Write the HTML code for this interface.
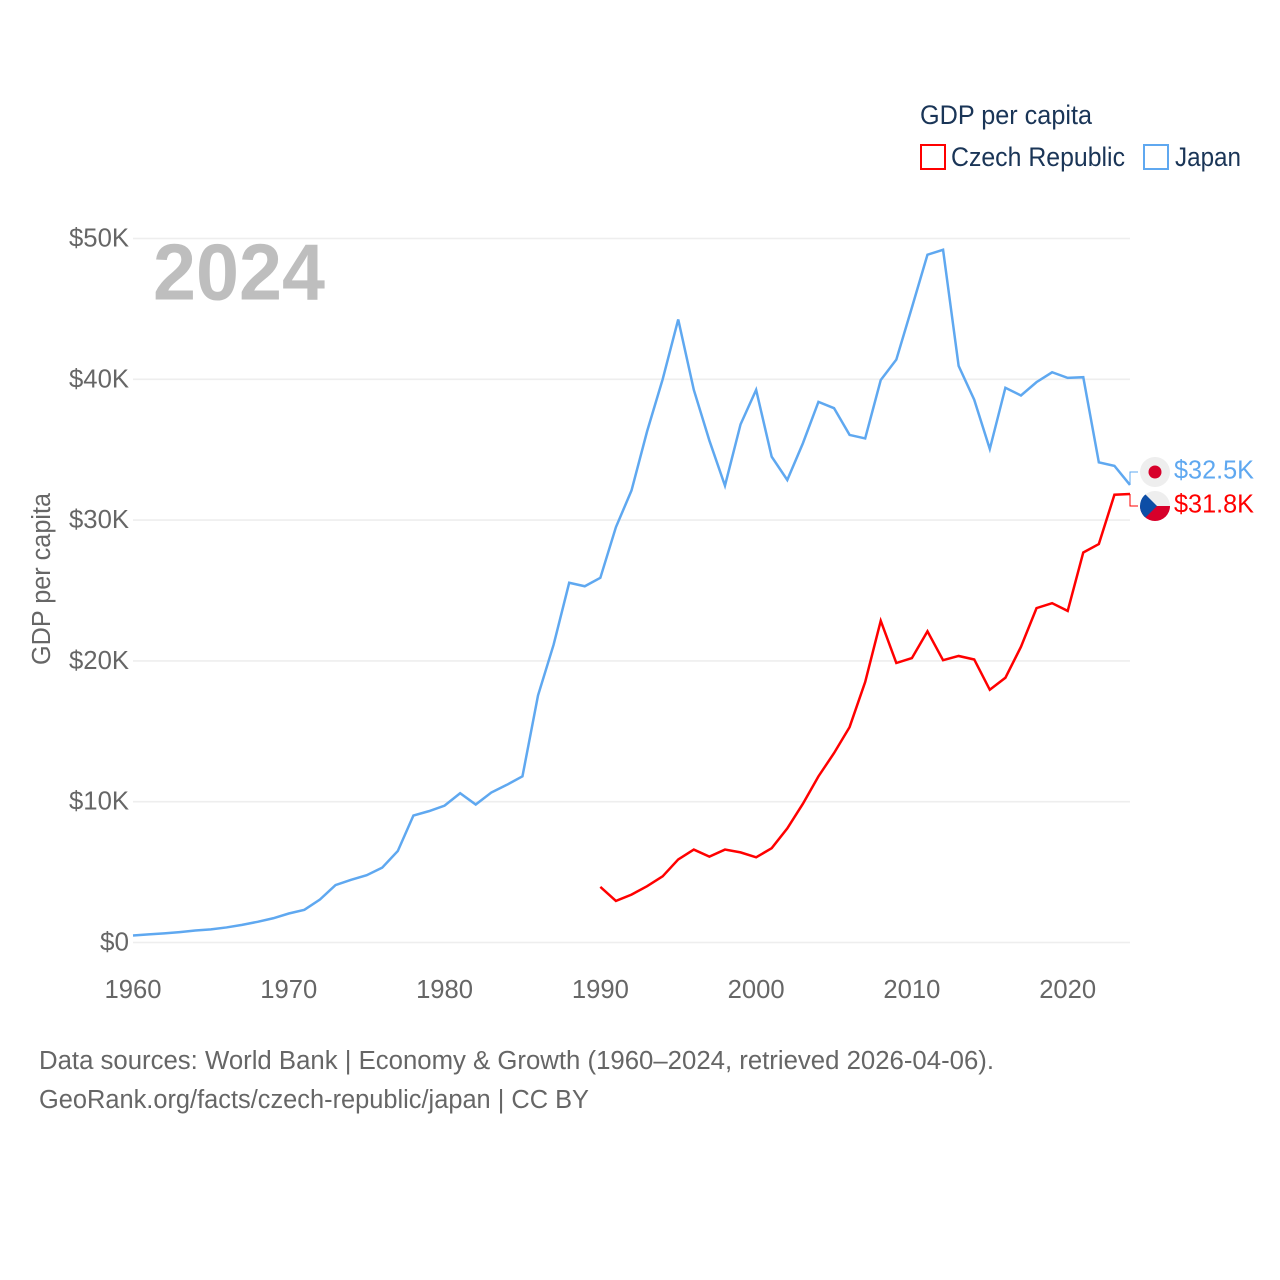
<!DOCTYPE html>
<html>
<head>
<meta charset="utf-8">
<title>GDP per capita: Czech Republic and Japan</title>
<style>
html,body{margin:0;padding:0;background:#fff}
svg{display:block}
text{font-family:"Liberation Sans",sans-serif}
.tick{font-size:25.5px;fill:#666}
.src{font-size:25.5px;fill:#666}
.leg{font-size:26.5px;fill:#1a3557}
</style>
</head>
<body>
<svg id="chart" xmlns="http://www.w3.org/2000/svg" width="1280" height="1280" viewBox="0 0 1280 1280">
  <rect width="1280" height="1280" fill="#fff"/>
  <g id="grid"></g>
  <g id="yticks"></g>
  <g id="xticks"></g>
  <text x="153" y="299.5" font-size="80" font-weight="bold" fill="#bebebe" textLength="172" lengthAdjust="spacingAndGlyphs">2024</text>
  <text class="tick" transform="translate(50,579) rotate(-90)" text-anchor="middle" textLength="172" lengthAdjust="spacingAndGlyphs">GDP per capita</text>
  <g id="series"></g>
  <g id="ends"></g>

  <g>
    <circle cx="1155" cy="472" r="15" fill="#eeeeee"/>
    <circle cx="1155" cy="472" r="6.5" fill="#d7002a"/>
  </g>
  <g>
    <clipPath id="czClip"><circle cx="1155" cy="506" r="15"/></clipPath>
    <g clip-path="url(#czClip)">
      <rect x="1140" y="491" width="30" height="15" fill="#eeeeee"/>
      <rect x="1140" y="506" width="30" height="15" fill="#d7002a"/>
      <polygon points="1140,489 1157,506 1140,523" fill="#0d4ea6"/>
    </g>
  </g>

  <g>
    <text class="leg" x="920" y="124" textLength="172" lengthAdjust="spacingAndGlyphs">GDP per capita</text>
    <g>
      <rect x="921" y="145" width="24" height="24" fill="#fff" stroke="#ff0000" stroke-width="2"/>
      <text class="leg" x="951" y="166" textLength="174" lengthAdjust="spacingAndGlyphs">Czech Republic</text>
    </g>
    <g>
      <rect x="1144" y="145" width="24" height="24" fill="#fff" stroke="#5fa8f0" stroke-width="2"/>
      <text class="leg" x="1175" y="166" textLength="66" lengthAdjust="spacingAndGlyphs">Japan</text>
    </g>
  </g>

  <text class="src" x="39" y="1069" textLength="955" lengthAdjust="spacingAndGlyphs">Data sources: World Bank | Economy &amp; Growth (1960–2024, retrieved 2026-04-06).</text>
  <text class="src" x="39" y="1108" textLength="550" lengthAdjust="spacingAndGlyphs">GeoRank.org/facts/czech-republic/japan | CC BY</text>
</svg>
<script>
const yTicks = [0, 10, 20, 30, 40, 50];
const xTicks = [1960, 1970, 1980, 1990, 2000, 2010, 2020];
const japanStart = 1960;
const japanValues = [0.5,0.58,0.65,0.74,0.85,0.93,1.07,1.25,1.47,1.72,2.06,2.32,3.05,4.08,4.45,4.78,5.32,6.5,9.02,9.33,9.72,10.6,9.8,10.65,11.2,11.8,17.55,21.15,25.55,25.3,25.9,29.5,32.1,36.3,40.0,44.25,39.25,35.65,32.45,36.8,39.25,34.5,32.85,35.45,38.4,37.95,36.05,35.8,39.95,41.4,45.1,48.85,49.2,40.95,38.55,35.05,39.4,38.85,39.8,40.5,40.1,40.15,34.1,33.85,32.5];
const czechStart = 1990;
const czechValues = [3.95,2.95,3.4,4.0,4.7,5.9,6.6,6.1,6.6,6.4,6.05,6.7,8.1,9.85,11.8,13.45,15.3,18.5,22.85,19.85,20.2,22.1,20.05,20.35,20.1,17.95,18.8,21.0,23.75,24.1,23.55,27.7,28.3,31.8,31.85];

const NS = 'http://www.w3.org/2000/svg';
const xScale = function (year) { return 133 + (year - 1960) * (1130 - 133) / 64; };
const yScale = function (v) { return 942.5 - v * (942.5 - 238.5) / 50; };
function make(tag, parent) {
  const el = document.createElementNS(NS, tag);
  parent.appendChild(el);
  return el;
}
const gridG = document.getElementById('grid');
const yG = document.getElementById('yticks');
const xG = document.getElementById('xticks');
const seriesG = document.getElementById('series');
const endsG = document.getElementById('ends');

yTicks.forEach(function (v) {
  const line = make('line', gridG);
  
  
  line.setAttribute('x1', 133);
  line.setAttribute('x2', 1130);
  line.setAttribute('y1', yScale(v));
  line.setAttribute('y2', yScale(v));
  line.setAttribute('stroke', '#eeeeee');
  line.setAttribute('stroke-width', 1.6);
  const label = v === 0 ? '$0' : '$' + v + 'K';
  const t = make('text', yG);
  
  
  t.setAttribute('class', 'tick');
  t.setAttribute('x', 129);
  t.setAttribute('y', yScale(v) + 8);
  t.setAttribute('text-anchor', 'end');
  t.setAttribute('textLength', v === 0 ? 29 : 60);
  t.setAttribute('lengthAdjust', 'spacingAndGlyphs');
  t.textContent = label;
});

xTicks.forEach(function (y) {
  const t = make('text', xG);
  
  
  t.setAttribute('class', 'tick');
  t.setAttribute('x', xScale(y));
  t.setAttribute('y', 998);
  t.setAttribute('text-anchor', 'middle');
  t.setAttribute('textLength', 57);
  t.setAttribute('lengthAdjust', 'spacingAndGlyphs');
  t.textContent = String(y);
});

function points(start, values) {
  return values.map(function (v, i) {
    return xScale(start + i).toFixed(2) + ',' + yScale(v).toFixed(2);
  }).join(' ');
}

const japanLine = make('polyline', seriesG);


japanLine.setAttribute('points', points(japanStart, japanValues));
japanLine.setAttribute('fill', 'none');
japanLine.setAttribute('stroke', '#5fa8f0');
japanLine.setAttribute('stroke-width', 2.5);

const czechLine = make('polyline', seriesG);


czechLine.setAttribute('points', points(czechStart, czechValues));
czechLine.setAttribute('fill', 'none');
czechLine.setAttribute('stroke', '#ff0000');
czechLine.setAttribute('stroke-width', 2.5);

const japanLast = japanValues[japanValues.length - 1];
const czechLast = czechValues[czechValues.length - 1];
const lastX = xScale(2024);

const japanConnector = make('polyline', endsG);


japanConnector.setAttribute('points', lastX + ',' + yScale(japanLast) + ' ' + lastX + ',472 1138,472');
japanConnector.setAttribute('fill', 'none');
japanConnector.setAttribute('stroke', '#5fa8f0');
japanConnector.setAttribute('stroke-width', 1);

const czechConnector = make('polyline', endsG);


czechConnector.setAttribute('points', lastX + ',' + yScale(czechLast) + ' ' + lastX + ',506 1138,506');
czechConnector.setAttribute('fill', 'none');
czechConnector.setAttribute('stroke', '#ff0000');
czechConnector.setAttribute('stroke-width', 1);

const japanEnd = make('text', endsG);


japanEnd.setAttribute('x', 1174);
japanEnd.setAttribute('y', 478.5);
japanEnd.setAttribute('font-size', 26);
japanEnd.setAttribute('fill', '#5fa8f0');
japanEnd.setAttribute('textLength', 80);
japanEnd.setAttribute('lengthAdjust', 'spacingAndGlyphs');
japanEnd.textContent = '$' + japanLast.toFixed(1) + 'K';

const czechEnd = make('text', endsG);


czechEnd.setAttribute('x', 1174);
czechEnd.setAttribute('y', 512.5);
czechEnd.setAttribute('font-size', 26);
czechEnd.setAttribute('fill', '#ff0000');
czechEnd.setAttribute('textLength', 80);
czechEnd.setAttribute('lengthAdjust', 'spacingAndGlyphs');
czechEnd.textContent = '$' + (Math.round(czechLast * 10 - 0.5) / 10).toFixed(1) + 'K';
</script>
</body>
</html>
